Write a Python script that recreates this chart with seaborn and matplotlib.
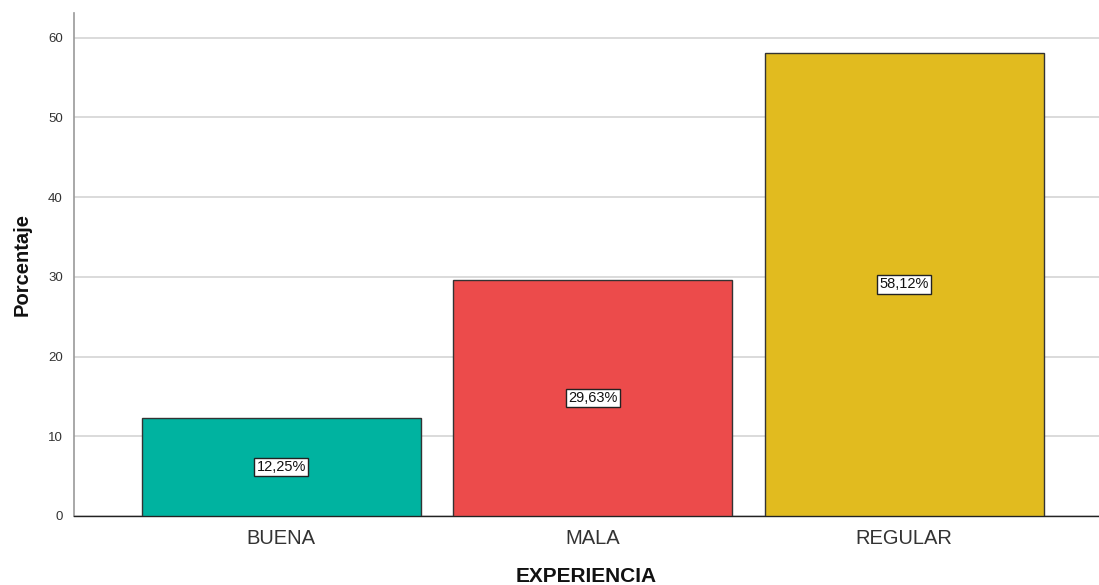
import matplotlib
matplotlib.use("Agg")
import matplotlib.pyplot as plt
import seaborn as sns
import pandas as pd

categories = ["BUENA", "MALA", "REGULAR"]
values = [12.25, 29.63, 58.12]
labels = ["12,25%", "29,63%", "58,12%"]
colors = ["#00b3a0", "#ec4b4b", "#e1bb1f"]
yticks = [0, 10, 20, 30, 40, 50, 60]

sns.set_theme(style="white")
plt.rcParams['font.family'] = ['Liberation Sans', 'DejaVu Sans']

df = pd.DataFrame({"EXPERIENCIA": categories, "Porcentaje": values})

fig = plt.figure(figsize=(10.99, 5.85), dpi=100)
ax = fig.add_axes([74/1099, 69/585, 1 - 74/1099, (516-13)/585])

sns.barplot(data=df, x="EXPERIENCIA", y="Porcentaje", hue="EXPERIENCIA",
            palette=colors, saturation=1, width=0.896, edgecolor="#333333", linewidth=1,
            legend=False, ax=ax, zorder=3)

ax.set_xlim(-0.666, 2.626)
ax.set_ylim(0, 63.1)
ax.set_yticks(yticks)
ax.yaxis.grid(True, color="#d4d4d4", linewidth=1.2, zorder=0)
ax.set_axisbelow(True)

for s in ["top", "right"]:
    ax.spines[s].set_visible(False)
ax.spines["left"].set_color("#999999")
ax.spines["left"].set_linewidth(1.2)
ax.spines["bottom"].set_color("#222222")
ax.spines["bottom"].set_linewidth(1.0)

ax.tick_params(axis="y", labelsize=9.5, labelcolor="#333333", length=0, pad=8)
ax.tick_params(axis="x", labelsize=14.5, labelcolor="#333333", length=0, pad=9)

ax.set_xlabel("EXPERIENCIA", fontsize=15, fontweight="bold", labelpad=14, color="#111111")
ax.set_ylabel("Porcentaje", fontsize=14.5, fontweight="bold", labelpad=12, color="#111111")

for i, (v, lab) in enumerate(zip(values, labels)):
    ax.text(i, v / 2, lab, ha="center", va="center", fontsize=10.5, color="#111111",
            zorder=5,
            bbox=dict(boxstyle="square,pad=0.15", facecolor="white", edgecolor="#222222", linewidth=1))

fig.savefig("out.png", dpi=100)
